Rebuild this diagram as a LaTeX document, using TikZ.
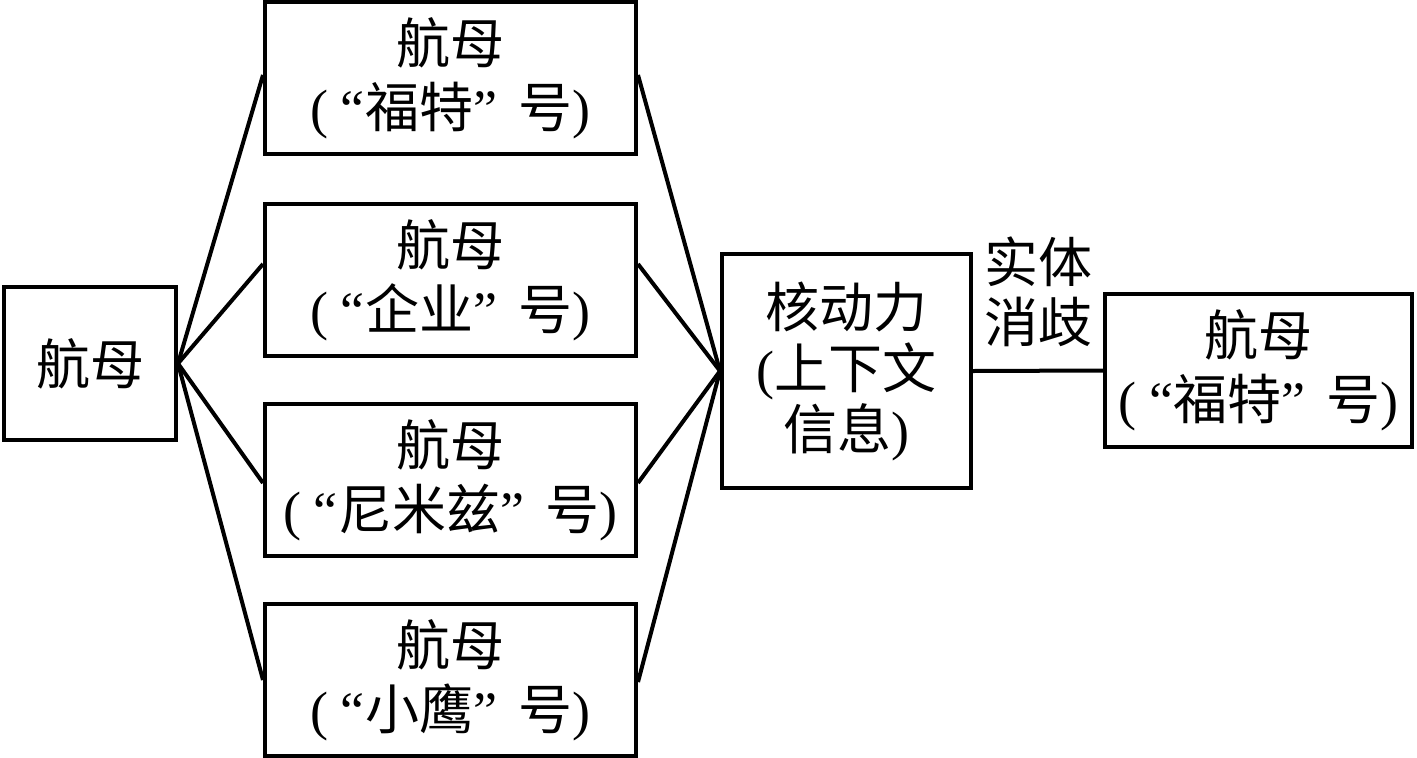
\documentclass[tikz,border=0pt]{standalone}
\usepackage{fontspec}
\setmainfont{Liberation Serif}
\newfontfamily\cjk{Noto Sans CJK SC}
\usetikzlibrary{calc}
\newcommand\zh[1]{{\cjk #1}}
\newcommand\ship[1]{\zh{航母}\\(\hspace{13pt}“\zh{#1}”\hspace{22pt}\zh{号})}
\begin{document}
\begin{tikzpicture}[x=1pt,y=-1pt,
  box/.style={draw, line width=4pt, inner sep=0pt, align=center, font=\fontsize{54}{64}\selectfont},
  conn/.style={line width=4pt},
  lab/.style={inner sep=0pt, align=center, font=\fontsize{54}{60}\selectfont}]
\useasboundingbox (0,0) rectangle (1417,758);
\node[box, minimum width=172pt, minimum height=153pt] (L) at (90,363.5) {\zh{航母}};
\node[box, minimum width=371pt, minimum height=152pt] (b1) at (450.5,78) {\ship{福特}};
\node[box, minimum width=371pt, minimum height=152pt] (b2) at (450.5,280) {\ship{企业}};
\node[box, minimum width=371pt, minimum height=152pt] (b3) at (450.5,480) {\ship{尼米兹}};
\node[box, minimum width=371pt, minimum height=152pt] (b4) at (450.5,680) {\ship{小鹰}};
\node[box, minimum width=249pt, minimum height=234pt, font=\fontsize{54}{61}\selectfont] (C) at (846.5,371) {\zh{核动力}\\(\zh{上下文}\\\zh{信息})};
\node[box, minimum width=307pt, minimum height=153pt] (R) at (1258.5,370.5) {\ship{福特}};
\node[lab] (tag) at (1038,292) {\zh{实体}\\\zh{消歧}};
\coordinate (b1l) at ($(b1.west)+(0,-3)$);
\coordinate (b2l) at ($(b2.west)+(0,-16)$);
\coordinate (b3l) at ($(b3.west)+(0,3)$);
\coordinate (b4l) at ($(b4.west)+(0,0)$);
\coordinate (b1r) at ($(b1.east)+(0,-3)$);
\coordinate (b2r) at ($(b2.east)+(0,-16)$);
\coordinate (b3r) at ($(b3.east)+(0,3)$);
\coordinate (b4r) at ($(b4.east)+(0,2)$);
\foreach \n in {1,2,3,4} {
  \draw[conn] (L.east) -- (b\n l);
  \draw[conn] (b\n r) -- (C.west);
}
\draw[conn] (C.east) -- (R.west);
\end{tikzpicture}
\end{document}
